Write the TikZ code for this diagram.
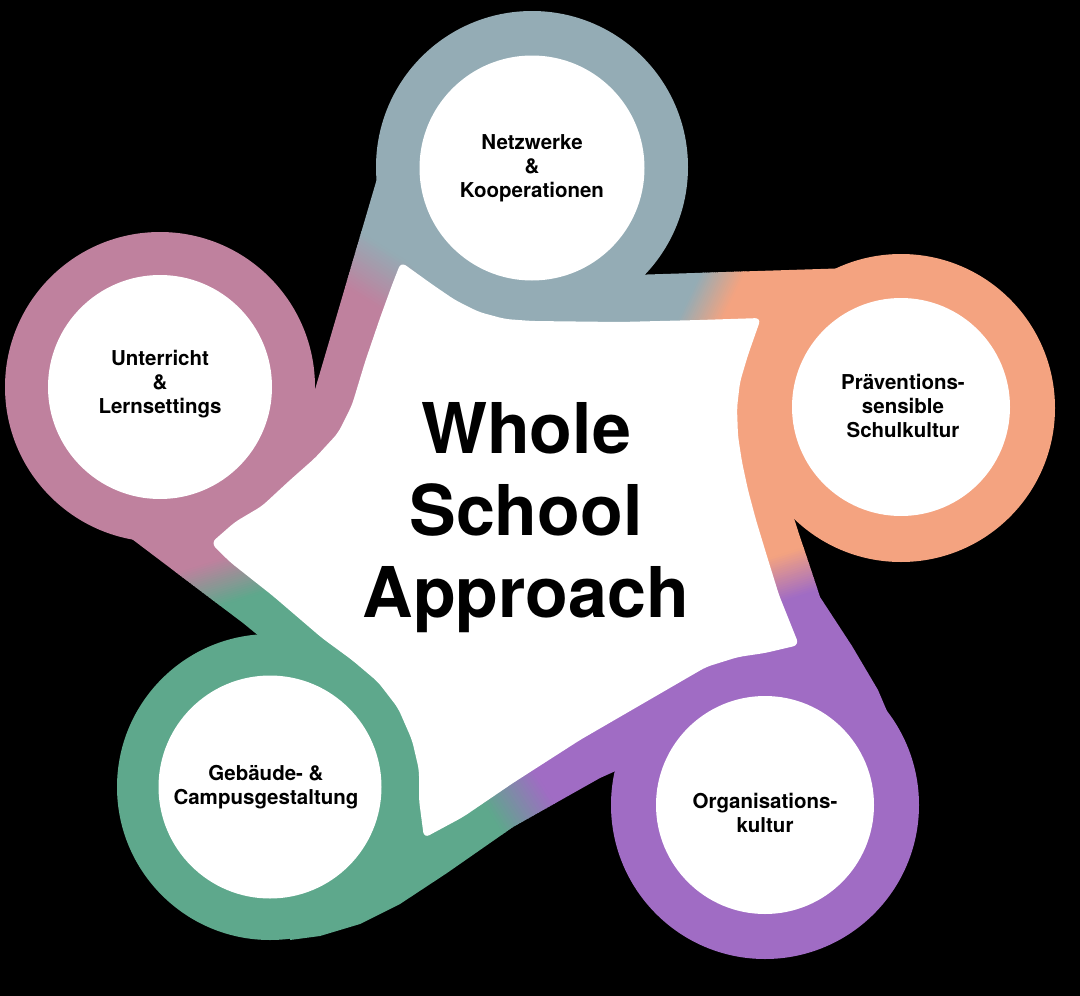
\documentclass[tikz,border=0pt]{standalone}
\usepackage{fontspec}
\setmainfont{TeX Gyre Heros}
\usepackage{tikz}
\definecolor{wsgrau}{HTML}{94ACB5}
\definecolor{wsrosa}{HTML}{BF819E}
\definecolor{wsorange}{HTML}{F4A380}
\definecolor{wslila}{HTML}{A06CC4}
\definecolor{wsgruen}{HTML}{5EA88C}
\tikzset{
  ring/.style={circle, inner sep=0pt},                 % farbiger Ring
  hole/.style={circle, fill=white, inner sep=0pt},     % weisser Innenkreis
  lbl/.style={align=center, inner sep=0pt, font=\fontsize{20.5}{24}\selectfont\bfseries},
  titel/.style={anchor=base, inner sep=0pt, font=\fontsize{70}{82}\selectfont\bfseries}
}
% Band mit Farbverlauf: #1 Umriss, #2 von, #3 nach, #4 Mitte, #5 Winkel, #6 Breite
\newcommand{\bandfill}[6]{%
  \begin{scope}
    \clip #1;
    \begin{scope}[shift={#4}, rotate=#5]
      \fill[fill=#2] (-600,-600) rectangle ({-#6/2+1},600);
      \foreach \k in {0,...,19}{%
        \pgfmathsetmacro{\pa}{-#6/2+\k*#6/20}%
        \pgfmathsetmacro{\pb}{\pa+#6/20+1}%
        \pgfmathtruncatemacro{\mix}{5*\k+2}%
        \fill[fill=#3!\mix!#2] (\pa,-600) rectangle (\pb,600);
      }
      \fill[fill=#3] ({#6/2},-600) rectangle (600,600);
    \end{scope}
  \end{scope}}

\begin{document}
\begin{tikzpicture}[x=1pt, y=-1pt]
  \useasboundingbox (0,0) rectangle (1080,996);
  \fill[black] (0,0) rectangle (1080,996);

  % Baender zwischen den Ringen
  \bandfill{(381,165) -- (309,410) -- (285,470) -- (250,500) -- (340,520) -- (440,240) -- cycle}{wsrosa}{wsgrau}{(370,270)}{58}{55}
  \bandfill{(450,250) -- (600,276) -- (852,268) -- (860,360) -- (450,360) -- cycle}{wsgrau}{wsorange}{(712,295)}{-25.6}{40}
  \bandfill{(790,330) -- (785,490) -- (800,537) -- (820,597) -- (852,646) -- (878,690) -- (895,730) -- (780,760) -- (700,600) -- (700,330) -- cycle}{wsorange}{wslila}{(790,575)}{-72.5}{45}
  \bandfill{(640,760) -- (600,778) -- (513,827) -- (447,873) -- (400,904) -- (360,924) -- (320,936) -- (290,940) -- (300,800) -- (480,700) -- (700,690) -- cycle}{wslila}{wsgruen}{(518,801)}{-147.7}{60}
  \bandfill{(120,530) -- (243,623) -- (270,645) -- (345,662) -- (300,520) -- (220,470) -- cycle}{wsgruen}{wsrosa}{(228,580)}{107.5}{45}

  % Ringe
  \node[ring, fill=wsgrau, minimum size=312pt] (netzR) at (532,167) {};
  \node[ring, fill=wsrosa, minimum size=310pt] (unterR) at (160,387) {};
  \node[ring, fill=wsorange, minimum size=308pt] (praevR) at (901,408) {};
  \node[ring, fill=wsgruen, minimum size=306pt] (gebR) at (270,787) {};
  \node[ring, fill=wslila, minimum size=308pt] (orgaR) at (765,805) {};

  % weisser Stern in der Mitte
  \fill[white, rounded corners=6pt] (401,262) -- (433,285) -- (455,300) -- (479,312) -- (505,319) -- (532,321)
    -- (620,322) -- (700,320) -- (761,318) -- (748,355) -- (740,382) -- (737,408) -- (738,436) -- (742,462)
    -- (748,490) -- (756,520) -- (766,553) -- (779,595) -- (799,645) -- (765,653) -- (738,657) -- (706,667)
    -- (580,740) -- (513,783) -- (463,817) -- (424,838) -- (419,800) -- (419,770) -- (412,740) -- (398,708)
    -- (378,682) -- (352,660) -- (322,638) -- (273,596) -- (230,562) -- (211,543) -- (235,522) -- (262,506)
    -- (289,481) -- (315,458) -- (338,433) -- (352,405) -- (365,362) -- (380,318) -- (392,285) -- cycle;

  % weisse Innenkreise
  \node[hole, minimum size=225pt] (netz) at (532,168) {};
  \node[hole, minimum size=224pt] (unter) at (160,387) {};
  \node[hole, minimum size=218pt] (praev) at (901,407) {};
  \node[hole, minimum size=223pt] (geb) at (270,787) {};
  \node[hole, minimum size=218pt] (orga) at (765,805) {};

  % Beschriftungen
  \node[lbl] (netzT) at (netz.center) {Netzwerke\\\&\\Kooperationen};
  \node[lbl] (unterT) at ([yshift=3pt]unter.center) {Unterricht\\\&\\Lernsettings};
  \node[lbl] (praevT) at ([xshift=2pt, yshift=1.5pt]praev.center) {Präventions-\\sensible\\Schulkultur};
  \node[lbl] (gebT) at ([xshift=-4pt]geb.center) {Gebäude- \&\\Campusgestaltung};
  \node[lbl] (orgaT) at ([yshift=-7.5pt]orga.center) {Organisations-\\kultur};

  % Titel
  \node[titel] (whole) at (526,453) {Whole};
  \node[titel] (school) at (526,535) {School};
  \node[titel] (approach) at (526,617) {Approach};
\end{tikzpicture}
\end{document}
